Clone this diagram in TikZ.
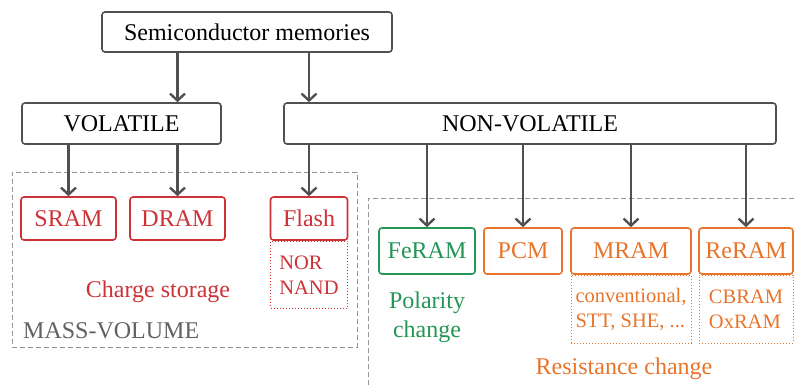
\documentclass[tikz,border=0pt]{standalone}
\usepackage{fontspec}
\setmainfont{Liberation Serif}
\usetikzlibrary{arrows.meta,positioning,calc}
\definecolor{edgegray}{RGB}{80,80,80}
\definecolor{chargered}{RGB}{205,50,55}
\definecolor{polgreen}{RGB}{35,150,85}
\definecolor{resorange}{RGB}{232,116,42}
\definecolor{zonegray}{RGB}{150,150,150}
\newcommand{\bigf}{\fontsize{24}{28}\selectfont}
\newcommand{\subf}{\fontsize{20.5}{25}\selectfont}
\tikzset{
  x=1pt,y=-1pt,
  catbox/.style={draw=edgegray,line width=1.6pt,rounded corners=3pt,
    fill=white,minimum height=41pt,inner sep=0pt,font=\bigf},
  membox/.style={draw=#1,text=#1,line width=1.6pt,rounded corners=3pt,
    fill=white,minimum height=43pt,inner sep=0pt,font=\bigf},
  subbox/.style={draw=#1,text=#1,dotted,line width=1pt,minimum height=67pt,
    align=left,inner sep=0pt,font=\subf},
  flow/.style={draw=edgegray,line width=2.4pt,
    -{Straight Barb[length=7pt,width=15pt]}},
  zone/.style={draw=zonegray,line width=0.8pt,dash pattern=on 5pt off 3pt},
  tag/.style={inner sep=0pt,font=\bigf},
}
\begin{document}
\begin{tikzpicture}
  \useasboundingbox (0,0) rectangle (794,386);
  % zones
  \node[zone,minimum width=345pt,minimum height=175pt] (massvol) at (184.5,259.5) {};
  \draw[zone] (794,198) -| (368,386);
  \node[tag,anchor=base west,text=edgegray!90] (masslbl) at (23,338) {MASS-VOLUME};

  % top levels
  \node[catbox,minimum width=290pt,minimum height=40pt] (top) at (247,32) {Semiconductor memories};
  \node[catbox,minimum width=199pt] (vol) at (121.5,123.5) {VOLATILE};
  \node[catbox,minimum width=492pt] (nonvol) at (530,123.5) {NON-VOLATILE};

  % charge storage
  \node[membox=chargered,minimum width=95pt] (sram) at (68.5,218.5) {SRAM};
  \node[membox=chargered,minimum width=95pt] (dram) at (177.5,218.5) {DRAM};
  \node[membox=chargered,minimum width=77pt] (flash) at (309,218.5) {Flash};
  \node[subbox=chargered,minimum width=77pt,below=0pt of flash] (flashsub) {NOR\\NAND};
  \node[tag,anchor=base,text=chargered] (charge) at (158,297) {Charge storage};

  % polarity / resistance change
  \node[membox=polgreen,minimum width=96pt,minimum height=46pt] (feram) at (427,251) {FeRAM};
  \node[membox=resorange,minimum width=78pt,minimum height=46pt] (pcm) at (523,251) {PCM};
  \node[membox=resorange,minimum width=120pt,minimum height=46pt] (mram) at (631,251) {MRAM};
  \node[membox=resorange,minimum width=94pt,minimum height=46pt] (reram) at (746,251) {ReRAM};
  \node[subbox=resorange,minimum width=120pt,minimum height=68pt,below=0pt of mram] (mramsub) {conventional,\\STT, SHE, ...};
  \node[subbox=resorange,minimum width=94pt,minimum height=68pt,below=0pt of reram] (reramsub) {CBRAM\\OxRAM};
  \node[tag,align=center,text=polgreen,font=\fontsize{24}{29}\selectfont] (polar) at (427,317) {Polarity\\change};
  \node[tag,anchor=base,text=resorange] (resist) at (624,374) {Resistance change};

  % arrows
  \draw[flow] (top.south -| dram.north) -- (vol.north -| dram.north);
  \draw[flow] (top.south -| flash.north) -- (nonvol.north -| flash.north);
  \foreach \m in {sram,dram} {
    \draw[flow] (vol.south -| \m.north) -- (\m.north);
  }
  \foreach \m in {flash,feram,pcm,mram,reram} {
    \draw[flow] (nonvol.south -| \m.north) -- (\m.north);
  }
\end{tikzpicture}
\end{document}
